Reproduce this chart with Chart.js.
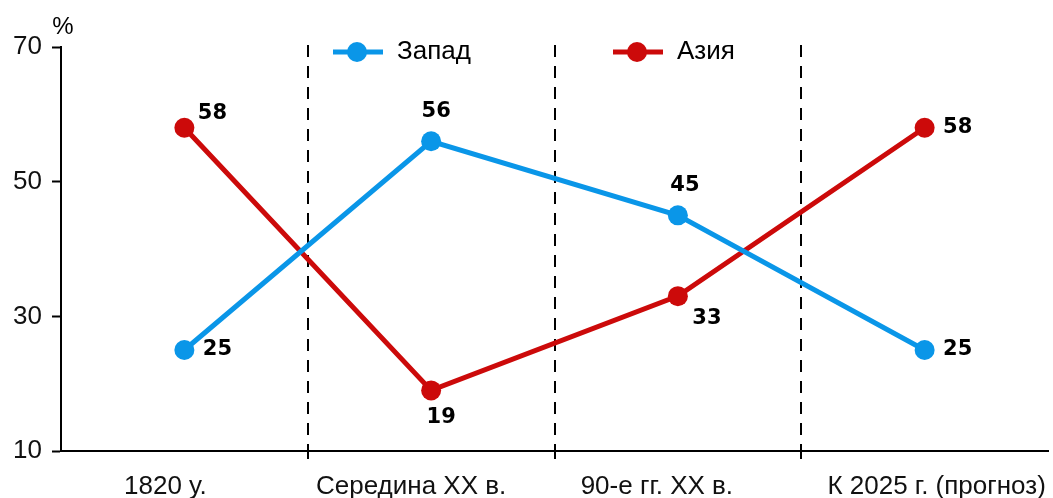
<!DOCTYPE html>
<html lang="ru">
<head>
<meta charset="utf-8">
<title>Запад и Азия</title>
<script src="https://cdn.jsdelivr.net/npm/chart.js@4.4.1/dist/chart.umd.min.js"></script>
<style>
  body { margin: 0; background: #fff; }
  canvas { display: block; }
</style>
</head>
<body>
<canvas id="grafico" width="1053" height="498"></canvas>
<script>
const periodos = ['1820 у.', 'Середина XX в.', '90-е гг. XX в.', 'К 2025 г. (прогноз)']
const zapad = [25, 56, 45, 25]
const aziya = [58, 19, 33, 58]
const ticksY = [10, 30, 50, 70]

const azul = '#0a96e8'
const rojo = '#cc0a0a'
const fuenteTexto = '"Liberation Sans", Arial, sans-serif'

// desplazamiento de cada etiqueta respecto a su punto [dx, dy]
const offZapad = [[33, 0], [5, -30], [7, -30], [33, 0]]
const offAziya = [[28, -14], [10, 27], [29, 22], [33, 0]]
// corrimiento horizontal de los nombres de periodo
const offPeriodo = [-19, -20, -21, 12]

const extras = {
    id: 'extras',
    beforeDatasetsDraw(chart) {
        const { ctx, chartArea, scales } = chart
        const x = scales.x
        ctx.save()
        ctx.strokeStyle = '#000'
        ctx.lineWidth = 2
        for (let i = 0; i < periodos.length - 1; i++) {
            const px = Math.round((x.getPixelForValue(i) + x.getPixelForValue(i + 1)) / 2)
            ctx.setLineDash([12, 9])
            ctx.beginPath()
            ctx.moveTo(px, chartArea.top - 2)
            ctx.lineTo(px, chartArea.bottom)
            ctx.stroke()
            // marca bajo el eje
            ctx.setLineDash([])
            ctx.beginPath()
            ctx.moveTo(px, chartArea.bottom)
            ctx.lineTo(px, chartArea.bottom + 8)
            ctx.stroke()
        }
        ctx.restore()
    },
    afterDraw(chart) {
        const { ctx, chartArea, scales } = chart
        ctx.save()

        // nombres de los periodos
        ctx.font = '26px ' + fuenteTexto
        ctx.fillStyle = '#111'
        ctx.textAlign = 'center'
        ctx.textBaseline = 'middle'
        periodos.forEach((p, i) => {
            ctx.fillText(p, scales.x.getPixelForValue(i) + offPeriodo[i], chartArea.bottom + 36)
        })

        // valores junto a los puntos
        ctx.font = 'bold 21px "DejaVu Sans", sans-serif'
        ctx.fillStyle = '#000'
        const etiquetas = (serie, off) => serie.forEach((v, i) => {
            const px = scales.x.getPixelForValue(i)
            const py = scales.y.getPixelForValue(v)
            ctx.fillText(String(v), px + off[i][0], py + off[i][1])
        })
        etiquetas(zapad, offZapad)
        etiquetas(aziya, offAziya)

        // unidad del eje
        ctx.font = '24px ' + fuenteTexto
        ctx.fillText('%', 63, 27)

        // leyenda
        const leyenda = [
            { texto: 'Запад', color: azul, x: 333 },
            { texto: 'Азия', color: rojo, x: 613 }
        ]
        ctx.textAlign = 'left'
        ctx.font = '26px ' + fuenteTexto
        leyenda.forEach((l) => {
            const y = 52
            ctx.strokeStyle = l.color
            ctx.fillStyle = l.color
            ctx.lineWidth = 5
            ctx.beginPath()
            ctx.moveTo(l.x, y)
            ctx.lineTo(l.x + 50, y)
            ctx.stroke()
            ctx.beginPath()
            ctx.arc(l.x + 24, y, 10, 0, Math.PI * 2)
            ctx.fill()
            ctx.fillStyle = '#000'
            ctx.fillText(l.texto, l.x + 64, y)
        })
        ctx.restore()
    }
}

const serie = (datos, color) => ({
    data: datos,
    borderColor: color,
    backgroundColor: color,
    borderWidth: 5,
    tension: 0,
    pointRadius: 10,
    pointHoverRadius: 10,
    pointBorderWidth: 0,
    pointBackgroundColor: color
})

new Chart('grafico', {
    type: 'line',
    data: {
        labels: periodos,
        datasets: [serie(zapad, azul), serie(aziya, rojo)]
    },
    options: {
        responsive: false,
        animation: false,
        events: [],
        layout: { autoPadding: false, padding: { top: 47, right: 5, left: 0, bottom: 0 } },
        plugins: {
            legend: { display: false },
            tooltip: { enabled: false }
        },
        scales: {
            x: {
                offset: true,
                grid: { display: false },
                border: { display: true, color: '#000', width: 2 },
                ticks: { display: false },
                afterFit: (scale) => { scale.height = 47 }
            },
            y: {
                min: 10,
                max: 70,
                afterBuildTicks: (scale) => { scale.ticks = ticksY.map((v) => ({ value: v })) },
                grid: {
                    drawOnChartArea: false,
                    tickLength: 9,
                    tickWidth: 2,
                    tickColor: '#000'
                },
                border: { display: true, color: '#000', width: 2 },
                ticks: {
                    color: '#111',
                    font: { family: fuenteTexto, size: 26 },
                    padding: 10
                },
                afterFit: (scale) => { scale.width = 61 }
            }
        }
    },
    plugins: [extras]
})
</script>
</body>
</html>
